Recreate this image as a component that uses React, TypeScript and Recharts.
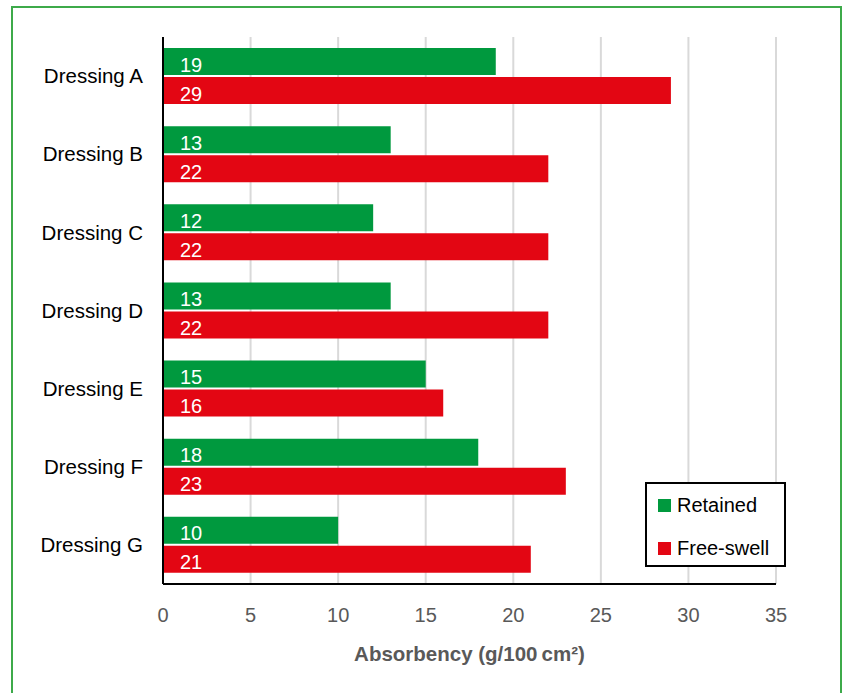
import { BarChart, Bar, XAxis, YAxis, CartesianGrid, LabelList } from "recharts";

const dressings = ["Dressing A", "Dressing B", "Dressing C", "Dressing D", "Dressing E", "Dressing F", "Dressing G"];
const retained = [19, 13, 12, 13, 15, 18, 10];
const freeSwell = [29, 22, 22, 22, 16, 23, 21];
const xTicks = [0, 5, 10, 15, 20, 25, 30, 35];

const series = [
  { key: "retained", name: "Retained", color: "#00993E" },
  { key: "freeSwell", name: "Free-swell", color: "#E30613" },
];

const data = dressings.map((name, i) => ({
  name,
  retained: retained[i],
  freeSwell: freeSwell[i],
}));

const FONT = '"Liberation Sans", Arial, sans-serif';

export default function App() {
  return (
    <div
      style={{
        position: "absolute",
        left: 0,
        top: 0,
        width: 842,
        height: 693,
        overflow: "hidden",
        background: "#fff",
        fontFamily: FONT,
      }}
    >
      <div
        style={{
          position: "absolute",
          left: 11,
          top: 6,
          width: 827,
          height: 720,
          border: "2px solid #3DAA4A",
        }}
      />
      <div style={{ position: "absolute", left: 0, top: 0 }}>
        <BarChart
          width={842}
          height={693}
          data={data}
          layout="vertical"
          margin={{ top: 37, right: 66, bottom: 0, left: 0 }}
          barSize={27}
          barGap={2}
        >
          <CartesianGrid horizontal={false} stroke="#D9D9D9" strokeWidth={2} />
          <XAxis
            type="number"
            domain={[0, 35]}
            ticks={xTicks}
            height={109}
            tickLine={false}
            tickMargin={18}
            axisLine={{ stroke: "#000", strokeWidth: 2 }}
            tick={{ fill: "#595959", fontSize: 20, fontFamily: FONT }}
            label={{
              value: "Absorbency (g/100\u2009cm²)",
              position: "insideBottom",
              offset: 32,
              fill: "#595959",
              fontSize: 20.5,
              fontWeight: "bold",
              fontFamily: FONT,
            }}
          />
          <YAxis
            type="category"
            dataKey="name"
            width={163}
            tickLine={false}
            tickMargin={14}
            axisLine={{ stroke: "#000", strokeWidth: 2 }}
            tick={{ fill: "#000", fontSize: 20.5, fontFamily: FONT }}
          />
          {series.map((s) => (
            <Bar key={s.key} dataKey={s.key} name={s.name} fill={s.color} isAnimationActive={false}>
              <LabelList
                dataKey={s.key}
                position="insideLeft"
                offset={17}
                dy={3}
                fill="#fff"
                fontSize={20}
                fontFamily={FONT}
              />
            </Bar>
          ))}
        </BarChart>
      </div>
      <div
        style={{
          position: "absolute",
          left: 645,
          top: 482,
          width: 137,
          height: 81,
          border: "2px solid #000",
          background: "#fff",
        }}
      >
        {series.map((s, i) => (
          <div
            key={s.key}
            style={{
              position: "absolute",
              left: 11,
              top: 9 + i * 43,
              display: "flex",
              alignItems: "center",
              fontSize: 20,
              color: "#000",
              lineHeight: "24px",
            }}
          >
            <span style={{ display: "inline-block", width: 13, height: 13, background: s.color, marginRight: 6 }} />
            {s.name}
          </div>
        ))}
      </div>
    </div>
  );
}
